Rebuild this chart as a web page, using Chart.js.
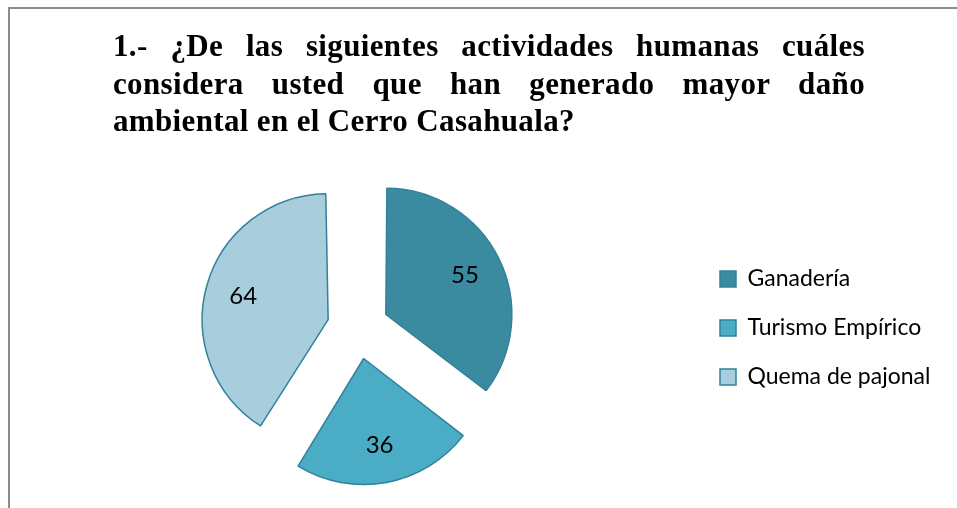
<!DOCTYPE html>
<html>
<head>
<meta charset="utf-8">
<script src="https://cdn.jsdelivr.net/npm/chart.js@4/dist/chart.umd.min.js"></script>
<style>
  html, body { margin: 0; padding: 0; background: #fff; }
  body { width: 957px; height: 508px; position: relative; overflow: hidden; }
  #frame {
    position: absolute; left: 8px; top: 7px; right: 0; bottom: 0;
    border-top: 2px solid #8c8c8c; border-left: 2px solid #8c8c8c;
  }
  #title {
    position: absolute; left: 113px; top: 27px; width: 752px;
    font-family: "Liberation Serif", "Times New Roman", serif;
    font-weight: bold; font-size: 31px; line-height: 37.5px; letter-spacing: 0.35px;
    text-align: justify; color: #000;
  }
  #chart { position: absolute; left: 0; top: 0; }
</style>
</head>
<body>
<div id="frame"></div>
<canvas id="chart" width="957" height="508"></canvas>
<div id="title">1.- ¿De las siguientes actividades humanas cuáles considera usted que han generado mayor daño ambiental en el Cerro Casahuala?</div>
<script>
const labels = ['Ganadería', 'Turismo Empírico', 'Quema de pajonal'];
const values = [55, 36, 64];
const sliceColors = ['#3b8ba0', '#4bacc6', '#a8cedd'];
const edgeColor = '#31819a';

const legendFont = 23;
const legendPad = 26;
const boxSize = 16;

// work out how wide the legend will be so the markers land in the right spot
const measure = document.createElement('canvas').getContext('2d');
measure.font = legendFont + 'px Lato';
const widest = Math.max(...labels.map((l) => measure.measureText(l).width));
const legendWidth = legendPad + boxSize + legendFont / 2 + widest + 10;
const legendLeft = 694;
const padRight = Math.max(957 - legendLeft - legendWidth, 0);

// Chart.js moves an arc by a quarter of its offset option
const explode = 31;
const pieRadius = 126;

// the arc also grows by (shift * (1 - sin(angle))) when offset, so take that back off
// to keep every slice the same size, like the original
const evenRadius = {
  id: 'evenRadius',
  afterDatasetUpdate(chart, args) {
    args.meta.data.forEach((arc) => {
      const shift = arc.options.offset / 4;
      const fix = 1 - Math.sin(Math.min(Math.PI, arc.circumference));
      arc.outerRadius = pieRadius - shift * fix;
    });
  },
};

// write each value inside its slice
const sliceLabels = {
  id: 'sliceLabels',
  afterDatasetsDraw(chart) {
    const { ctx } = chart;
    const meta = chart.getDatasetMeta(0);
    ctx.save();
    ctx.font = '24px Lato';
    ctx.fillStyle = '#000';
    ctx.textAlign = 'center';
    ctx.textBaseline = 'middle';
    meta.data.forEach((arc, i) => {
      const p = arc.getProps(['x', 'y', 'startAngle', 'endAngle']);
      const mid = (p.startAngle + p.endAngle) / 2;
      const r = explode + pieRadius * 0.7;
      ctx.fillText(String(values[i]), p.x + Math.cos(mid) * r, p.y + Math.sin(mid) * r);
    });
    ctx.restore();
  },
};

new Chart(document.getElementById('chart'), {
  type: 'pie',
  data: {
    labels,
    datasets: [{
      data: values,
      backgroundColor: sliceColors,
      borderColor: edgeColor,
      borderWidth: 1.5,
      offset: explode * 4,
      radius: pieRadius,
    }],
  },
  options: {
    responsive: false,
    animation: false,
    layout: {
      padding: { left: 22, right: padRight, top: 180, bottom: 32 },
    },
    plugins: {
      legend: {
        position: 'right',
        labels: {
          boxWidth: boxSize,
          boxHeight: boxSize,
          padding: legendPad,
          color: '#000',
          font: { family: 'Lato', size: legendFont },
        },
      },
      tooltip: { enabled: false },
    },
  },
  plugins: [evenRadius, sliceLabels],
});
</script>
</body>
</html>
